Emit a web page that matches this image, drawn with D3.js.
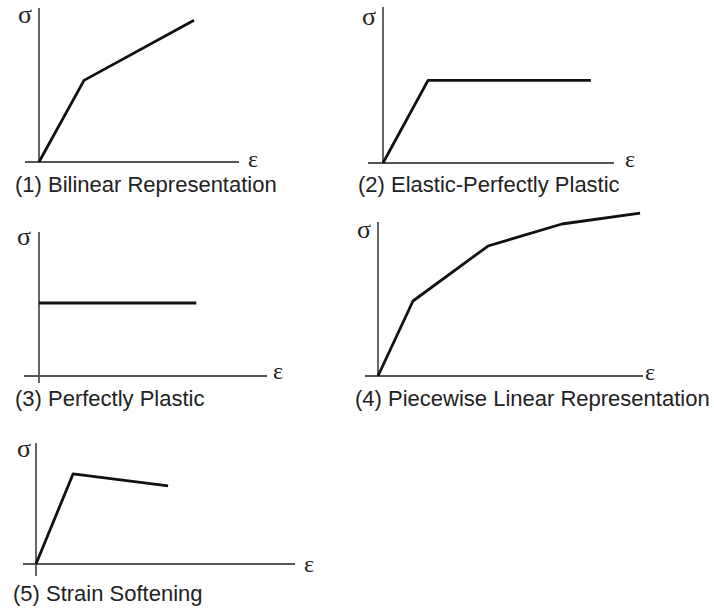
<!DOCTYPE html>
<html>
<head>
<meta charset="utf-8">
<script src="https://cdn.jsdelivr.net/npm/d3@7"></script>
<style>
  html, body { margin: 0; padding: 0; background: #fff; }
  svg { display: block; }
</style>
</head>
<body>
<svg id="chart" width="714" height="611"></svg>
<script>
// ---- Data (normalized strain ε and stress σ) ----
const titles = [
  "(1) Bilinear Representation",
  "(2) Elastic-Perfectly Plastic",
  "(3) Perfectly Plastic",
  "(4) Piecewise Linear Representation",
  "(5) Strain Softening"
];
const strain1 = [0, 0.225, 0.775];
const stress1 = [0, 0.53, 0.92];
const strain2 = [0, 0.195, 0.90];
const stress2 = [0, 0.53, 0.53];
const strain3 = [0, 0.69];
const stress3 = [0.507, 0.507];
const strain4 = [0, 0.132, 0.415, 0.694, 0.989];
const stress4 = [0, 0.487, 0.844, 0.987, 1.058];
const strain5 = [0, 0.143, 0.51];
const stress5 = [0, 0.744, 0.645];
const yLabel = "σ";
const xLabel = "ε";

// ---- Layout (pixel geometry of each small panel) ----
const layout = [
  { ox: 39,  oy: 162, w: 200, h: 154, xl: 14, yb: 0,  sx: 25,  sy: 14,  ex: 253, ey: 159, tx: 15,  ty: 192 },
  { ox: 383, oy: 163, w: 231, h: 156, xl: 15, yb: 0,  sx: 369, sy: 16,  ex: 630, ey: 159, tx: 358, ty: 192 },
  { ox: 39,  oy: 376, w: 228, h: 144, xl: 15, yb: 7,  sx: 24,  sy: 236, ex: 278, ey: 371, tx: 15,  ty: 406 },
  { ox: 378, oy: 376, w: 265, h: 154, xl: 13, yb: 0,  sx: 364, sy: 229, ex: 650, ey: 372, tx: 355, ty: 406 },
  { ox: 36,  oy: 564, w: 259, h: 121, xl: 13, yb: 12, sx: 24,  sy: 448, ex: 309, ey: 564, tx: 13,  ty: 601 }
];

const series = [
  [strain1, stress1],
  [strain2, stress2],
  [strain3, stress3],
  [strain4, stress4],
  [strain5, stress5]
];

const svg = d3.select("#chart");

series.forEach(([xs, ys], i) => {
  const L = layout[i];
  const x = d3.scaleLinear().domain([0, 1]).range([L.ox, L.ox + L.w]);
  const y = d3.scaleLinear().domain([0, 1]).range([L.oy, L.oy - L.h]);
  const g = svg.append("g").attr("class", "panel-" + (i + 1));

  // axes
  g.append("line")
    .attr("x1", x(0) - L.xl).attr("x2", x(1))
    .attr("y1", y(0)).attr("y2", y(0))
    .attr("stroke", "#555").attr("stroke-width", 1.8);
  g.append("line")
    .attr("x1", x(0)).attr("x2", x(0))
    .attr("y1", y(0) + L.yb).attr("y2", y(1))
    .attr("stroke", "#555").attr("stroke-width", 1.8);

  // curve
  const pts = xs.map((v, k) => [v, ys[k]]);
  g.append("path")
    .datum(pts)
    .attr("fill", "none")
    .attr("stroke", "#111")
    .attr("stroke-width", 2.8)
    .attr("stroke-linejoin", "round")
    .attr("d", d3.line().x(d => x(d[0])).y(d => y(d[1])));

  // axis symbols
  g.append("text")
    .attr("x", L.sx).attr("y", L.sy)
    .attr("text-anchor", "middle").attr("dominant-baseline", "central")
    .attr("font-family", "'Liberation Serif', 'DejaVu Serif', serif")
    .attr("font-size", 26).attr("fill", "#222")
    .text(yLabel);
  g.append("text")
    .attr("x", L.ex).attr("y", L.ey)
    .attr("text-anchor", "middle").attr("dominant-baseline", "central")
    .attr("font-family", "'Liberation Serif', 'DejaVu Serif', serif")
    .attr("font-size", 24).attr("fill", "#222")
    .text(xLabel);

  // caption
  g.append("text")
    .attr("x", L.tx).attr("y", L.ty)
    .attr("font-family", "'Liberation Sans', Arial, sans-serif")
    .attr("font-size", 22).attr("fill", "#222")
    .text(titles[i]);
});
</script>
</body>
</html>
